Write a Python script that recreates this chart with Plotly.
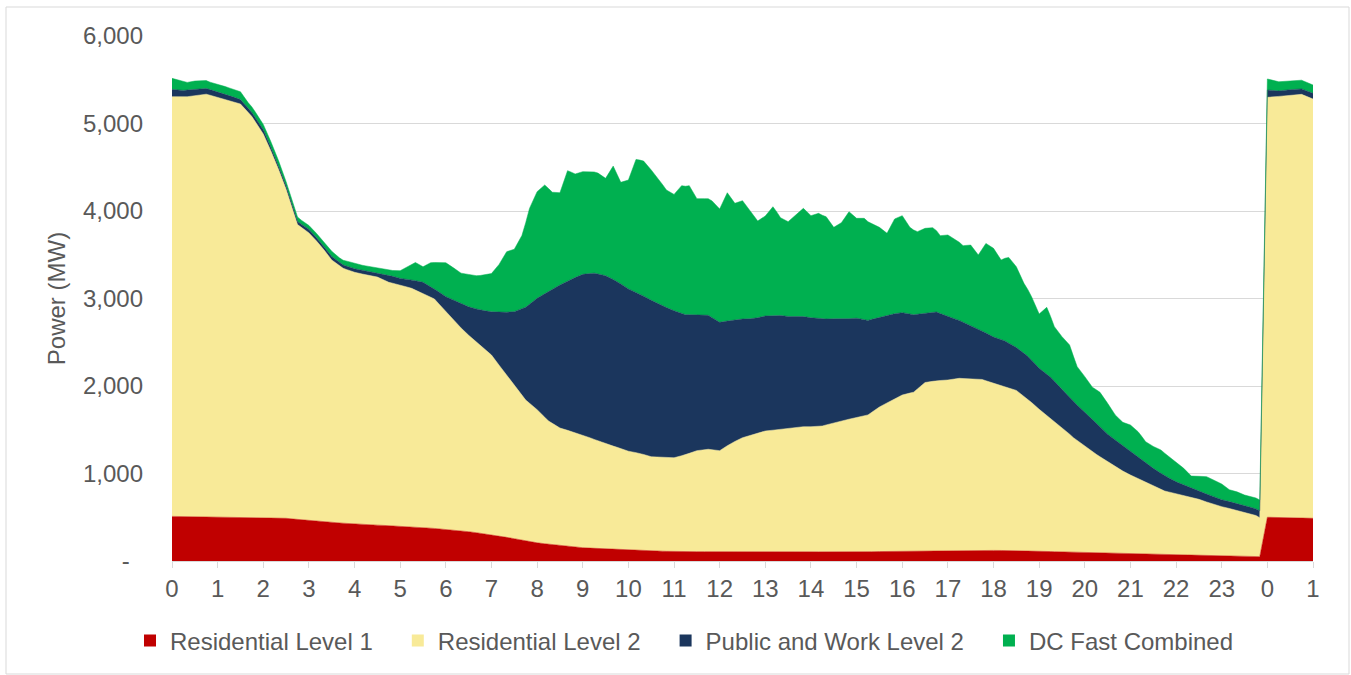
import plotly.graph_objects as go

# ---- positions (hours) ----
END_OF_DAY = 143 / 6
NEXT_DAY = [24, 24.25, 24.5, 24.75, 25]
x_quarter = [i / 4 for i in range(96)] + [END_OF_DAY] + NEXT_DAY
x_tenmin = [i / 6 for i in range(144)] + NEXT_DAY

tick_positions = list(range(26))
tick_labels = [str(h) for h in range(24)] + ["0", "1"]

# ---- series values (MW) ----
residential_l1 = [
    510, 508, 505, 502, 498, 497, 495, 494, 493, 492, 488, 475,
    462, 452, 442, 432, 422, 416, 410, 404, 396, 390, 382, 372,
    362, 350, 335, 318, 300, 278, 255, 230, 208, 192, 178, 165,
    152, 145, 140, 133, 125, 120, 116, 112, 108, 107, 107, 107,
    108, 110, 112, 113, 112, 110, 108, 106, 105, 104, 103, 103,
    104, 106, 108, 110, 112, 113, 114, 115, 116, 117, 118, 120,
    121, 120, 118, 115, 112, 108, 104, 100, 96, 93, 90, 87,
    84, 81, 78, 75, 72, 69, 66, 63, 60, 57, 54, 51,
    50,
    500, 498, 495, 492, 488,
]

residential_l2 = [
    4797, 4792, 4813, 4833, 4802, 4763, 4728, 4586, 4387, 4098, 3762, 3370,
    3288, 3158, 2998, 2913, 2878, 2854, 2835, 2781, 2759, 2726, 2678, 2623,
    2488, 2355, 2245, 2152, 2054, 1902, 1745, 1610, 1522, 1408, 1342, 1315,
    1288, 1245, 1200, 1167, 1130, 1110, 1076, 1070, 1072, 1108, 1154, 1170,
    1153, 1235, 1297, 1335, 1374, 1390, 1408, 1429, 1430, 1439, 1477, 1508,
    1536, 1564, 1652, 1720, 1785, 1817, 1926, 1945, 1953, 1971, 1962, 1955,
    1909, 1870, 1832, 1735, 1622, 1522, 1426, 1310, 1214, 1127, 1045, 963,
    899, 839, 782, 725, 698, 671, 639, 597, 561, 533, 503, 469,
    445,
    4799, 4812, 4830, 4841, 4792,
]

public_work_l2 = [
    83, 78, 75, 65, 62, 60, 50, 45, 50, 35, 35, 35,
    40, 35, 40, 38, 40, 45, 45, 80, 75, 97, 125, 115,
    171, 255, 325, 399, 494, 660, 850, 1060, 1272, 1480, 1634, 1740,
    1836, 1900, 1920, 1895, 1855, 1820, 1788, 1733, 1680, 1600, 1554, 1531,
    1467, 1405, 1356, 1322, 1314, 1310, 1279, 1265, 1245, 1222, 1188, 1155,
    1135, 1080, 1025, 990, 941, 885, 790, 786, 723, 662, 610, 555,
    530, 525, 490, 490, 468, 470, 430, 410, 390, 360, 315, 300,
    267, 240, 199, 175, 135, 110, 90, 90, 79, 78, 79, 75,
    80,
    84, 62, 62, 62, 65,
]

dc_fast = [
    126, 108, 87, 92, 96, 85, 88, 88, 86, 90, 65, 65,
    60, 65, 65, 50, 60, 45, 45, 50, 50, 60, 50, 58,
    60, 57, 58, 60, 57, 67, 88, 150, 208, 178, 274, 329,
    388, 370, 348, 370, 380, 408, 437, 547, 692, 713, 837, 1096,
    1219, 1243, 1110, 1055, 1263, 1184, 1174, 1160, 1153, 1113, 1297, 1161,
    1244, 1520, 1544, 1489, 1429, 1343, 1330, 1460, 1475, 1326, 1331, 1334,
    1295, 1466, 1333, 1353, 1232, 1106, 1143, 1242, 1118, 1083, 1156, 1237,
    1167, 1203, 1169, 1045, 1100, 1223, 1141, 1158, 1097, 1028, 937, 1083,
    1109, 991, 944, 972, 969, 890, 934, 912, 874, 921, 847, 1023,
    1013, 910, 980, 923, 800, 727, 621, 765, 625, 604, 602, 441,
    407, 365, 391, 352, 286, 268, 304, 288, 237, 251, 266, 248,
    223, 191, 139, 173, 199, 189, 180, 136, 133, 118, 128, 122,
    126, 105, 100, 100, 95,
]

series = [
    ("Residential Level 1", x_quarter, residential_l1, "#C00000"),
    ("Residential Level 2", x_quarter, residential_l2, "#F8EA98"),
    ("Public and Work Level 2", x_quarter, public_work_l2, "#1B365D"),
    ("DC Fast Combined", x_tenmin, dc_fast, "#00B050"),
]

FONT = "Liberation Sans, Arial, sans-serif"
TXT = "#595959"
GRID = "#D9D9D9"

fig = go.Figure()
for i, (name, xs, ys, color) in enumerate(series):
    fig.add_trace(go.Scatter(
        x=xs, y=ys, name=name, mode="lines",
        stackgroup="ev", stackgaps="interpolate" if i == 0 else None,
        line=dict(width=0.5, color=color), fillcolor=color,
        showlegend=False, legendgroup=name,
    ))
for name, xs, ys, color in series:
    fig.add_trace(go.Scatter(
        x=[None], y=[None], name=name + "\u00a0\u00a0\u00a0", mode="markers",
        marker=dict(symbol="square", size=12, color=color),
        legendgroup=name, showlegend=True,
    ))

L, R, T, B = 172, 1313, 36, 561
W, H = 1351, 675
pw, ph = R - L, B - T

fig.update_layout(
    width=W, height=H,
    margin=dict(l=L, r=W - R, t=T, b=H - B),
    paper_bgcolor="white", plot_bgcolor="white",
    font=dict(family=FONT, size=24, color=TXT),
    showlegend=True,
    legend=dict(
        orientation="h", x=(130 - L) / pw, xanchor="left",
        y=(B - 641) / ph, yanchor="middle",
        font=dict(family=FONT, size=24, color=TXT),
        itemclick=False, itemdoubleclick=False,
    ),
    xaxis=dict(
        range=[0, 25], tickmode="array", tickvals=tick_positions, ticktext=tick_labels,
        showgrid=False, zeroline=False, showline=True, linecolor=GRID, linewidth=1,
        ticks="outside", ticklen=6, tickcolor=GRID, tickwidth=1,
        tickfont=dict(family=FONT, size=24, color=TXT),
    ),
    yaxis=dict(
        range=[0, 6000], tickmode="array",
        tickvals=[0, 1000, 2000, 3000, 4000, 5000, 6000],
        ticktext=["-\u00a0\u00a0", "1,000", "2,000", "3,000", "4,000", "5,000", "6,000"],
        showgrid=True, gridcolor=GRID, gridwidth=1, zeroline=False, showline=False,
        ticks="", ticklabelstandoff=28,
        tickfont=dict(family=FONT, size=24, color=TXT),
        title=dict(text="Power (MW)", standoff=10, font=dict(family=FONT, size=24, color=TXT)),
    ),
    shapes=[dict(
        type="rect", xref="paper", yref="paper", layer="below",
        x0=(6 - L) / pw, x1=(1349 - L) / pw,
        y0=(B - 674) / ph, y1=(B - 7) / ph,
        line=dict(color=GRID, width=1), fillcolor="rgba(0,0,0,0)",
    )],
)

fig.write_html(
    "out.html",
    config={"displayModeBar": False},
    post_script="document.body.style.margin='0';document.body.style.overflow='hidden';",
)
